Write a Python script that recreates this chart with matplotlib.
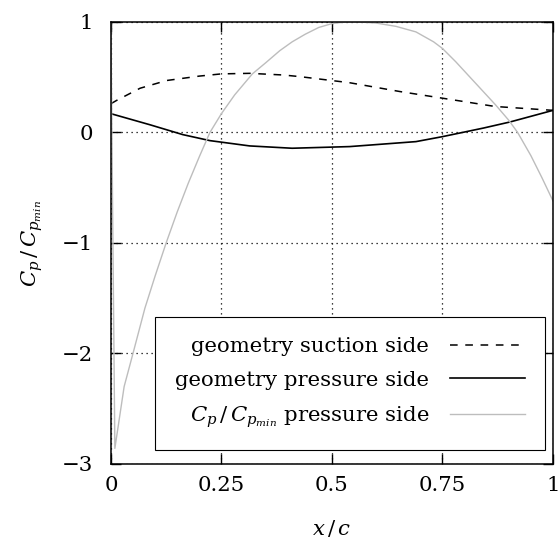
import matplotlib
matplotlib.use('Agg')
import matplotlib.pyplot as plt

# profile geometry, suction side
x_suction = [0.0, 0.013, 0.066, 0.126, 0.2, 0.25, 0.314, 0.39, 0.428, 0.54, 0.654, 0.75, 0.869, 1.0]
y_suction = [0.26, 0.29, 0.40, 0.47, 0.51, 0.53, 0.535, 0.52, 0.505, 0.45, 0.37, 0.31, 0.235, 0.2]

# profile geometry, pressure side
x_pressure = [0.0, 0.088, 0.163, 0.224, 0.314, 0.41, 0.54, 0.69, 0.75, 0.843, 0.903, 1.0]
y_pressure = [0.17, 0.07, -0.02, -0.074, -0.122, -0.143, -0.128, -0.083, -0.038, 0.04, 0.095, 0.2]

# normalised pressure coefficient on the pressure side
x_cp = [0.0, 0.009, 0.03, 0.05, 0.077, 0.1, 0.125, 0.15, 0.175, 0.2, 0.224, 0.25, 0.28,
        0.32, 0.35, 0.382, 0.41, 0.44, 0.47, 0.5, 0.53, 0.56, 0.6, 0.645, 0.69, 0.73,
        0.75, 0.78, 0.81, 0.84, 0.87, 0.9, 0.92, 0.95, 0.975, 1.0]
y_cp = [1.0, -2.86, -2.3, -2.0, -1.59, -1.3, -1.0, -0.72, -0.46, -0.22, 0.0, 0.17, 0.34,
        0.53, 0.63, 0.74, 0.82, 0.89, 0.95, 0.985, 1.0, 1.0, 0.99, 0.96, 0.91, 0.82,
        0.76, 0.64, 0.51, 0.38, 0.25, 0.11, 0.0, -0.21, -0.41, -0.62]

x_ticks = [0, 0.25, 0.5, 0.75, 1]
x_ticklabels = ['0', '0.25', '0.5', '0.75', '1']
y_ticks = [-3, -2, -1, 0, 1]
y_ticklabels = ['\u22123', '\u22122', '\u22121', '0', '1']

plt.rcParams['font.family'] = 'DejaVu Serif'
plt.rcParams['mathtext.fontset'] = 'custom'
plt.rcParams['mathtext.rm'] = 'DejaVu Serif'
plt.rcParams['mathtext.it'] = 'DejaVu Serif:italic'
plt.rcParams['font.size'] = 15.3

fig = plt.figure(figsize=(5.6, 5.49), dpi=100)
ax = fig.add_axes([0.198, 0.155, 0.7895, 0.805])

ax.plot(x_suction, y_suction, color='black', lw=1.1, dashes=(5, 5),
        label='geometry suction side')
ax.plot(x_pressure, y_pressure, color='black', lw=1.2,
        label='geometry pressure side')
ax.plot(x_cp, y_cp, color='#bdbdbd', lw=1.0,
        label=r'$C_p\,/\,C_{p_{min}}$ pressure side')

ax.set_xlim(0, 1)
ax.set_ylim(-3, 1)
ax.set_xticks(x_ticks)
ax.set_xticklabels(x_ticklabels)
ax.set_yticks(y_ticks)
ax.set_yticklabels(y_ticklabels)
ax.tick_params(direction='in', length=7, width=1, top=True, right=True)
ax.tick_params(axis='y', pad=13)
ax.tick_params(axis='x', pad=9)
ax.grid(True, color='black', linestyle=(0, (1, 3)), linewidth=0.9)
for sp in ax.spines.values():
    sp.set_linewidth(1.1)

ax.set_xlabel(r'$x\,/\,c$', labelpad=16)
ax.set_ylabel(r'$C_p\,/\,C_{p_{min}}$', labelpad=12)

leg = ax.legend(loc='lower right', bbox_to_anchor=(0.982, 0.032), borderaxespad=0,
                markerfirst=False, handlelength=3.5, handletextpad=1.0,
                fancybox=False, framealpha=1, edgecolor='black', labelspacing=0.68,
                borderpad=0.95)
leg.get_frame().set_linewidth(0.8)

fig.savefig('out.png', dpi=100)
